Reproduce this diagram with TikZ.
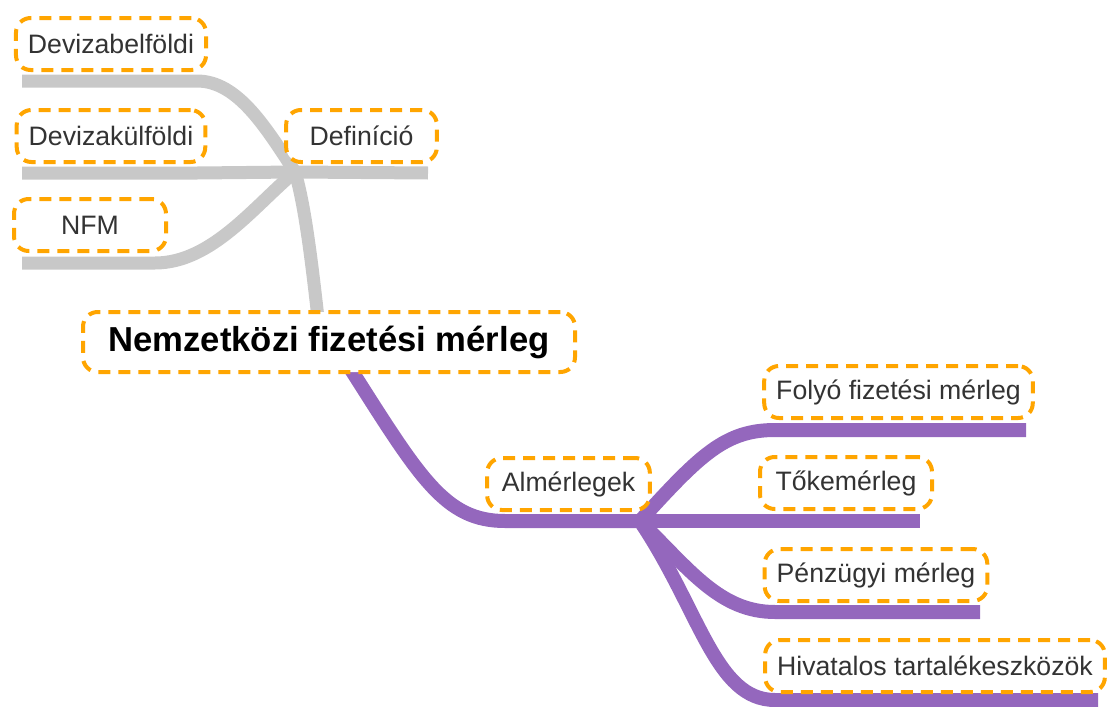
\documentclass[tikz,border=0pt]{standalone}
\usepackage{fontspec}
\setmainfont{Liberation Sans}
\definecolor{boxorange}{RGB}{255,165,0}
\definecolor{linegrey}{RGB}{200,200,200}
\definecolor{linepurple}{RGB}{148,103,189}
\definecolor{txtgrey}{RGB}{51,51,51}
\tikzset{
  mmbox/.style={draw=boxorange, dash pattern=on 9pt off 6pt, line width=3pt,
    rounded corners=11pt, fill=white, text=txtgrey, inner xsep=9pt, inner ysep=0pt,
    minimum height=39pt, font=\fontsize{20}{24}\selectfont},
  rootbox/.style={mmbox, text=black, inner xsep=16pt, minimum height=45pt,
    font=\fontsize{26}{31}\selectfont\bfseries},
  greyline/.style={draw=linegrey, line width=9.75pt},
  purpleline/.style={draw=linepurple, line width=10.5pt},
}
\begin{document}
\begin{tikzpicture}[x=0.75pt,y=-0.75pt]
\useasboundingbox (0,0) rectangle (1111,707);
% coordinates
\coordinate (dh) at (295,172);
\coordinate (ah) at (640,521);
\coordinate (b1s) at (22,81);  \coordinate (b1e) at (197,81);
\coordinate (b2s) at (22,173); \coordinate (b2e) at (197,173);
\coordinate (b3s) at (22,263); \coordinate (b3e) at (155,263);
\coordinate (defe) at (428,173);
\coordinate (roottop) at (318,318);
\coordinate (rootbot) at (350,368);
\coordinate (alms) at (505,521);
\coordinate (f1s) at (775,430); \coordinate (f1e) at (1026,430);
\coordinate (f2e) at (920,521);
\coordinate (f3s) at (775,612); \coordinate (f3e) at (980,612);
\coordinate (f4s) at (775,700); \coordinate (f4e) at (1098,700);
% grey connectors
\draw[greyline] (b1s) -- (b1e) .. controls (238,81) and (266,128) .. (dh);
\draw[greyline] (b2s) -- (b2e) -- (dh);
\draw[greyline] (b3s) -- (b3e) .. controls (212,263) and (255,205) .. (dh);
\draw[greyline] (dh) -- (defe);
\draw[greyline] (dh) .. controls (305,205) and (312,265) .. (roottop);
% purple connectors
\draw[purpleline] (rootbot) .. controls (420,478) and (445,521) .. (alms) -- (ah);
\draw[purpleline] (ah) .. controls (700,455) and (725,430) .. (f1s) -- (f1e);
\draw[purpleline] (ah) -- (f2e);
\draw[purpleline] (ah) .. controls (690,570) and (720,612) .. (f3s) -- (f3e);
\draw[purpleline] (ah) .. controls (700,610) and (715,700) .. (f4s) -- (f4e);
% nodes
\node[mmbox] (devb) at (111,44) {Devizabelföldi};
\node[mmbox] (devk) at (111,136) {Devizakülföldi};
\node[mmbox, minimum width=113pt] (def) at (361.5,136) {Definíció};
\node[mmbox, minimum width=114pt] (nfm) at (90,225) {NFM};
\node[rootbox, minimum width=369pt] (root) at (329,342) {Nemzetközi fizetési mérleg};
\node[mmbox, minimum width=122pt] (alm) at (568.5,484) {Almérlegek};
\node[mmbox] (folyo) at (898.5,392) {Folyó fizetési mérleg};
\node[mmbox, minimum width=129pt] (toke) at (846,483) {Tőkemérleg};
\node[mmbox] (penz) at (876,575) {Pénzügyi mérleg};
\node[mmbox] (hiv) at (935,666) {Hivatalos tartalékeszközök};
\end{tikzpicture}
\end{document}
